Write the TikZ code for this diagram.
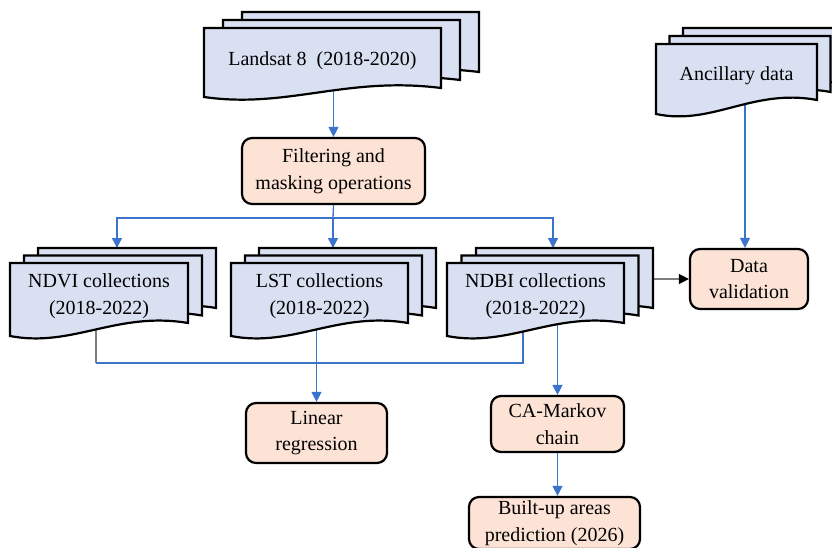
\documentclass[tikz,border=0pt]{standalone}
\usepackage{fontspec}
\setmainfont{Liberation Serif}
\usetikzlibrary{arrows.meta}

\definecolor{sheetblue}{HTML}{D9E0F1}
\definecolor{peach}{HTML}{FCE3D5}
\definecolor{linkblue}{HTML}{3C74CC}
\definecolor{linkgray}{HTML}{7F7F7F}

\pgfdeclarelayer{background}
\pgfsetlayers{background,main}

\tikzset{
  sheet/.style={draw=black, line width=2.2pt, fill=sheetblue, line join=miter},
  stacklabel/.style={draw=none, inner sep=0pt, align=center},
  procbox/.style={draw=black, line width=2.2pt, fill=peach, rounded corners=10pt,
                  align=center, inner sep=0pt},
  link/.style={draw=linkblue, line width=1.3pt},
  linkarrow/.style={link, -{Triangle[width=10pt,length=10pt]}},
  feedarrow/.style={draw=linkgray, line width=1.3pt,
                    -{Triangle[width=10pt,length=10pt,color=black]}},
}

% one sheet of a document: top-left corner (#1,#2), width #3,
% depth #4 at the left end and #5 at the right end of the wavy edge
\newcommand{\docsheet}[5]{%
  \draw[sheet] (#1,#2) -- (#1+#3,#2) -- (#1+#3,#2+#5)
    .. controls (#1+0.6*#3,#2+#5-12) and (#1+0.35*#3,#2+#4+12) .. (#1,#2+#4) -- cycle;}

% a stack of three sheets: name, x, y, width, left depth, right depth,
% sheet offset dx, dy, label
\newcommand{\docstack}[9]{%
  \docsheet{#2+2*#7}{#3-2*#8}{#4}{#5}{#6}
  \docsheet{#2+#7}{#3-#8}{#4}{#5}{#6}
  \docsheet{#2}{#3}{#4}{#5}{#6}
  \node[stacklabel, minimum width=#4, minimum height={(#5+#6)/2}]
    (#1) at (#2+#4/2, #3+#5/4+#6/4) {#9};
  \node[inner sep=0pt, minimum width=#4, minimum height=#6]
    (#1-b) at (#2+2*#7+#4/2, #3-2*#8+#6/2) {};}

\begin{document}
\begin{tikzpicture}[x=1pt, y=-1pt, font=\fontsize{20}{26.5}\selectfont]
\path[use as bounding box] (0,0) rectangle (832,548);
\clip (0,0) rectangle (832,548);

% data sources
\docstack{landsat}{204}{28}{237}{69}{60}{19}{8}{Landsat 8\ \ (2018-2020)}
\docstack{ancillary}{656}{44}{161}{70}{56}{13.5}{8}{Ancillary data}

% index collections
\docstack{ndvi}{10}{263}{178}{73}{60}{14}{7.5}{NDVI collections\\(2018-2022)}
\docstack{lst}{231}{263}{177}{73}{60}{14}{7.5}{LST collections\\(2018-2022)}
\docstack{ndbi}{447}{263}{177}{73}{60}{14.5}{7.5}{NDBI collections\\(2018-2022)}

% processing steps
\node[procbox, minimum width=183, minimum height=66] (filter) at (333.5,171)
  {Filtering and\\masking operations};
\node[procbox, minimum width=118, minimum height=60] (dv) at (749,279)
  {Data\\validation};
\node[procbox, minimum width=141, minimum height=60] (linreg) at (316.5,433)
  {Linear\\regression};
\node[procbox, minimum width=133, minimum height=56] (ca) at (557.5,424)
  {CA-Markov\\chain};
\node[procbox, minimum width=171, minimum height=52] (bu) at (554.5,523)
  {Built-up areas\\prediction (2026)};

% branch points
\coordinate (bus) at (333,218);
\coordinate (ndvitop) at (117,248);
\coordinate (lsttop) at (333,248);
\coordinate (ndbitop) at (553,248);
\coordinate (ancx) at (745,0);
\coordinate (j1) at (96,363);
\coordinate (j2) at (523,363);

\begin{pgfonlayer}{background}
  \draw[linkarrow] ([yshift=6pt]landsat.south -| filter.north) -- (filter.north);
  \draw[link] (filter.south) -- (bus);
  \draw[linkarrow] (bus) -| (ndvitop);
  \draw[linkarrow] (bus) -- (lsttop);
  \draw[linkarrow] (bus) -| (ndbitop);
  \draw[linkarrow] ([yshift=6pt]ancillary.south -| ancx) -- (dv.north -| ancx);
  \draw[feedarrow] (ndbi-b.east |- dv.west) -- (dv.west);
  \draw[draw=linkgray, line width=1.3pt] ([yshift=6pt]ndvi.south -| j1) -- (j1);
  \draw[link] (j1) -- (j2) -- ([yshift=6pt]ndbi.south -| j2);
  \draw[linkarrow] ([yshift=6pt]lst.south -| linreg.north) -- (linreg.north);
  \draw[linkarrow] ([yshift=6pt]ndbi.south -| ca.north) -- (ca.north);
  \draw[linkarrow] (ca.south) -- (ca.south |- bu.north);
\end{pgfonlayer}
\end{tikzpicture}
\end{document}
